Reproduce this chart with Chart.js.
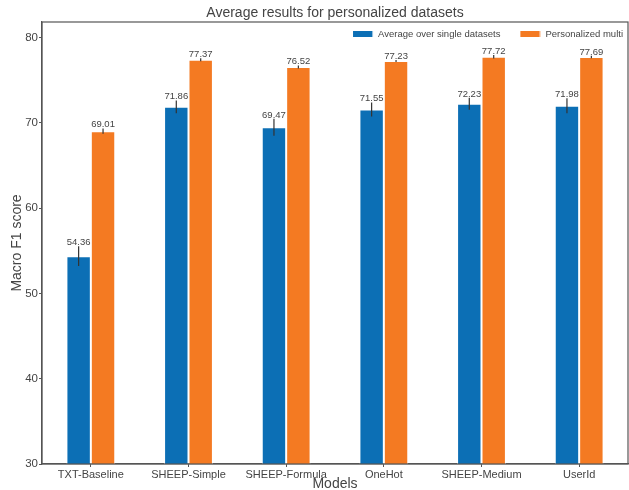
<!DOCTYPE html>
<html>
<head>
<meta charset="utf-8">
<script src="https://cdn.jsdelivr.net/npm/chart.js@4.4.0/dist/chart.umd.min.js"></script>
<style>
  html, body { margin: 0; padding: 0; background: #fff; }
  #wrap { width: 629px; height: 490px; }
</style>
</head>
<body>
<div id="wrap"><canvas id="results"></canvas></div>
<script>
var models = ['TXT-Baseline', 'SHEEP-Simple', 'SHEEP-Formula', 'OneHot', 'SHEEP-Medium', 'UserId'];
var singleAvg = [54.36, 71.86, 69.47, 71.55, 72.23, 71.98];
var singleErr = [1.17, 0.74, 1.0, 0.82, 0.7, 0.88];
var personalized = [69.01, 77.37, 76.52, 77.23, 77.72, 77.69];
var personalizedErr = [0.3, 0.18, 0.18, 0.12, 0.2, 0.15];
var yTicks = [30, 40, 50, 60, 70, 80];

var textColor = '#444';
var axisColor = '#555';
var font = 'Liberation Sans';

// error bars, value labels, legend in the top right corner and the plot frame
var errorBars = {
    id: 'errorBars',
    afterDatasetsDraw: function (chart) {
        var ctx = chart.ctx;
        var y = chart.scales.y;
        var a = chart.chartArea;
        ctx.save();
        chart.data.datasets.forEach(function (ds, i) {
            var meta = chart.getDatasetMeta(i);
            meta.data.forEach(function (bar, j) {
                var v = ds.data[j], e = ds.err[j];
                var top = y.getPixelForValue(v + e);
                ctx.strokeStyle = '#333';
                ctx.lineWidth = 1.2;
                ctx.beginPath();
                ctx.moveTo(bar.x, y.getPixelForValue(v - e));
                ctx.lineTo(bar.x, top);
                ctx.stroke();
                ctx.fillStyle = textColor;
                ctx.font = '9.5px "' + font + '"';
                ctx.textAlign = 'center';
                ctx.textBaseline = 'bottom';
                ctx.fillText(v.toFixed(2), bar.x, top + 1);
            });
        });

        // legend, laid out right to left
        ctx.font = '9.5px "' + font + '"';
        ctx.textBaseline = 'middle';
        ctx.textAlign = 'left';
        var x = a.right - 5, ly = a.top + 12;
        for (var i = chart.data.datasets.length - 1; i >= 0; i--) {
            var ds = chart.data.datasets[i];
            var w = ctx.measureText(ds.label).width;
            x -= w;
            ctx.fillStyle = textColor;
            ctx.fillText(ds.label, x, ly);
            x -= 5 + 20;
            ctx.fillStyle = ds.backgroundColor;
            ctx.fillRect(x, ly - 3, 20, 6);
            ctx.fillStyle = 'rgba(255,255,255,0.6)';
            ctx.fillRect(x + 19, ly - 3, 1, 6);
            x -= 20;
        }

        ctx.strokeStyle = axisColor;
        ctx.lineWidth = 1.2;
        ctx.strokeRect(a.left, a.top, a.right - a.left, a.bottom - a.top);
        ctx.restore();
    }
};

var ctx = document.getElementById('results').getContext('2d');
var chart = new Chart(ctx, {
    type: 'bar',
    data: {
        labels: models,
        datasets: [{
            label: 'Average over single datasets',
            data: singleAvg,
            err: singleErr,
            backgroundColor: '#0c6fb5',
            borderColor: 'rgba(255,255,255,0.85)',
            borderWidth: 1,
            categoryPercentage: 0.5,
            barPercentage: 1.0
        }, {
            label: 'Personalized multi',
            data: personalized,
            err: personalizedErr,
            backgroundColor: '#f47a22',
            borderColor: 'rgba(255,255,255,0.85)',
            borderWidth: 1,
            categoryPercentage: 0.5,
            barPercentage: 1.0
        }]
    },
    options: {
        responsive: true,
        maintainAspectRatio: false,
        animation: false,
        layout: { padding: { left: 0, right: 1, top: 0, bottom: 0 } },
        plugins: {
            title: {
                display: true,
                text: 'Average results for personalized datasets',
                color: textColor,
                fullSize: false,
                font: { family: font, size: 14, weight: 'normal' },
                padding: { top: 5.2, bottom: 0 }
            },
            legend: { display: false },
            tooltip: { enabled: false }
        },
        scales: {
            x: {
                grid: { display: true, drawOnChartArea: false, drawTicks: true, tickLength: 3, offset: false, color: axisColor },
                border: { color: axisColor, width: 1.2 },
                ticks: { color: textColor, font: { family: font, size: 11 }, padding: 1, maxRotation: 0, autoSkip: false },
                title: { display: true, text: 'Models', color: textColor, font: { family: font, size: 14, lineHeight: 0.8 }, padding: 0 },
                afterFit: function (s) { s.height = 26; }
            },
            y: {
                min: 30,
                max: 81.8,
                afterBuildTicks: function (s) { s.ticks = yTicks.map(function (v) { return { value: v }; }); },
                grid: { display: true, drawOnChartArea: false, drawTicks: true, tickLength: 3, color: axisColor },
                border: { color: axisColor, width: 1.2 },
                ticks: { color: textColor, font: { family: font, size: 11.5 }, padding: 1 },
                title: { display: true, text: 'Macro F1 score', color: textColor, font: { family: font, size: 14 }, padding: { top: 9, bottom: 0 } },
                afterFit: function (s) { s.width = 42; }
            }
        }
    },
    plugins: [errorBars]
});
</script>
</body>
</html>
